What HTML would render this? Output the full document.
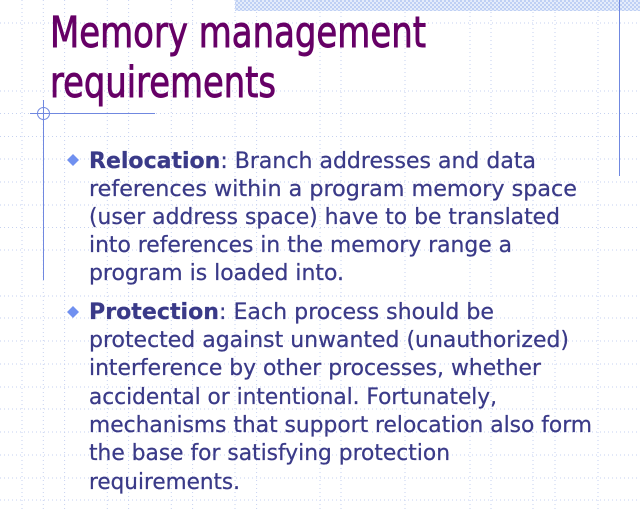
<!DOCTYPE html>
<html><head><meta charset="utf-8"><style>html,body{margin:0;padding:0;background:#fff;}svg{display:block}</style></head>
<body>
<svg width="640" height="512" xmlns="http://www.w3.org/2000/svg">
<defs>
<pattern id="chk" width="4" height="4" patternUnits="userSpaceOnUse">
<rect width="4" height="4" fill="#e4ecfb"/><rect width="2" height="2" fill="#bfd0f4"/><rect x="2" y="2" width="2" height="2" fill="#bfd0f4"/>
</pattern>
</defs>
<rect x="235" y="0" width="405" height="11" fill="url(#chk)"/>
<g stroke="#c6d2f0" stroke-width="1" stroke-dasharray="1,3">
<line x1="22" y1="0" x2="22" y2="512"/><line x1="43.3" y1="0" x2="43.3" y2="512"/><line x1="64.6" y1="0" x2="64.6" y2="512"/>
<line x1="107.3" y1="0" x2="107.3" y2="512"/><line x1="128.6" y1="0" x2="128.6" y2="512"/><line x1="171.3" y1="0" x2="171.3" y2="512"/><line x1="192.6" y1="0" x2="192.6" y2="512"/>
<line x1="235" y1="0" x2="235" y2="512"/><line x1="256.6" y1="0" x2="256.6" y2="512"/><line x1="320" y1="0" x2="320" y2="512"/><line x1="341" y1="0" x2="341" y2="512"/>
<line x1="405" y1="0" x2="405" y2="512"/><line x1="470" y1="0" x2="470" y2="512"/><line x1="491" y1="0" x2="491" y2="512"/><line x1="533" y1="0" x2="533" y2="512"/>
<line x1="555" y1="0" x2="555" y2="512"/><line x1="598" y1="0" x2="598" y2="512"/>
<line x1="0" y1="23" x2="640" y2="23"/><line x1="0" y1="91" x2="640" y2="91"/><line x1="0" y1="113.5" x2="640" y2="113.5"/><line x1="0" y1="136.5" x2="640" y2="136.5"/>
<line x1="0" y1="159" x2="640" y2="159"/><line x1="0" y1="182" x2="640" y2="182"/><line x1="0" y1="205" x2="640" y2="205"/><line x1="0" y1="227.5" x2="640" y2="227.5"/>
<line x1="0" y1="250" x2="640" y2="250"/><line x1="0" y1="296" x2="640" y2="296"/><line x1="0" y1="318" x2="640" y2="318"/><line x1="0" y1="341" x2="640" y2="341"/>
<line x1="0" y1="364" x2="640" y2="364"/><line x1="0" y1="387" x2="640" y2="387"/><line x1="0" y1="409" x2="640" y2="409"/><line x1="0" y1="432" x2="640" y2="432"/>
<line x1="0" y1="455" x2="640" y2="455"/><line x1="0" y1="478" x2="640" y2="478"/><line x1="0" y1="500" x2="640" y2="500"/>
</g>
<g stroke="#7088e0" stroke-width="1" fill="none">
<line x1="619.5" y1="0" x2="619.5" y2="176"/>
<line x1="30" y1="113.5" x2="155" y2="113.5"/>
<line x1="43.5" y1="100" x2="43.5" y2="280"/>
<circle cx="43.5" cy="113.5" r="6"/>
</g>
<g fill="#660066" stroke="#660066" stroke-width="0.9" font-family="'DejaVu Sans','Liberation Sans',sans-serif" font-size="43">
<text x="50" y="47" textLength="376" lengthAdjust="spacingAndGlyphs">Memory management</text>
<text x="50" y="97" textLength="226" lengthAdjust="spacingAndGlyphs">requirements</text>
</g>
<g fill="#7090f0">
<polygon points="73,154 79,160 73,166 67,160"/>
<polygon points="73,306 79,312 73,318 67,312"/>
</g>
<g fill="#3a3a88" stroke="#3a3a88" stroke-width="0.25" font-family="'DejaVu Sans','Liberation Sans',sans-serif" font-size="22">
<text x="89" y="168" textLength="447" lengthAdjust="spacingAndGlyphs"><tspan font-weight="bold">Relocation</tspan>: Branch addresses and data</text>
<text x="89" y="196" textLength="488" lengthAdjust="spacingAndGlyphs">references within a program memory  space</text>
<text x="89" y="224" textLength="471" lengthAdjust="spacingAndGlyphs">(user address space) have to be translated</text>
<text x="89" y="252" textLength="423" lengthAdjust="spacingAndGlyphs">into references in the memory range a</text>
<text x="89" y="280" textLength="255" lengthAdjust="spacingAndGlyphs">program is loaded into.</text>
<text x="89" y="319" textLength="405" lengthAdjust="spacingAndGlyphs"><tspan font-weight="bold">Protection</tspan>: Each process should be</text>
<text x="89" y="347" textLength="480" lengthAdjust="spacingAndGlyphs">protected against unwanted (unauthorized)</text>
<text x="89" y="375" textLength="452" lengthAdjust="spacingAndGlyphs">interference by other processes, whether</text>
<text x="89" y="404" textLength="408" lengthAdjust="spacingAndGlyphs">accidental or intentional. Fortunately,</text>
<text x="89" y="432" textLength="503" lengthAdjust="spacingAndGlyphs">mechanisms that support relocation also form</text>
<text x="89" y="460" textLength="361" lengthAdjust="spacingAndGlyphs">the base for satisfying protection</text>
<text x="89" y="489" textLength="151" lengthAdjust="spacingAndGlyphs">requirements.</text>
</g>
</svg>
</body></html>
